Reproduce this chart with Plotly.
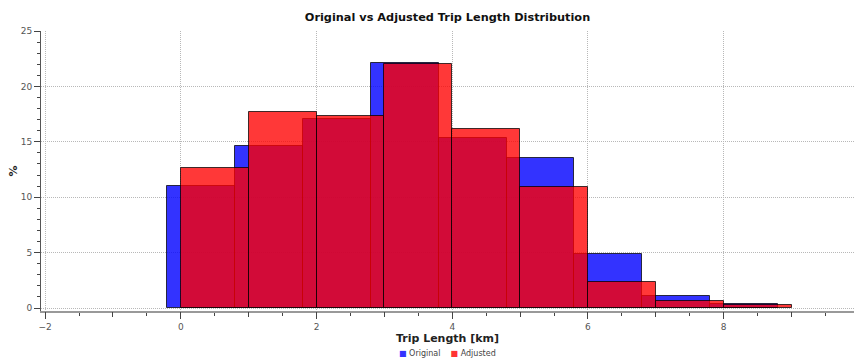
import plotly.graph_objects as go

# Data (percent of trips per 1 km bin)
original_bin_start = [-0.2, 0.8, 1.8, 2.8, 3.8, 4.8, 5.8, 6.8, 7.8]
original_pct = [11.0, 14.6, 17.05, 22.1, 15.3, 13.5, 4.85, 1.08, 0.36]

adjusted_bin_start = [0, 1, 2, 3, 4, 5, 6, 7, 8]
adjusted_pct = [12.6, 17.7, 17.3, 22.0, 16.15, 10.9, 2.35, 0.63, 0.27]

bin_width = 1.0
series_names = ["Original", "Adjusted"]

FONT = "DejaVu Sans"
BLUE = "rgba(0,0,255,0.8)"
RED = "rgba(255,0,0,0.78)"
EDGE = "rgba(0,0,0,0.75)"

fig = go.Figure()
fig.add_trace(go.Bar(
    x=original_bin_start, y=original_pct, width=bin_width, offset=0,
    marker=dict(color=BLUE, line=dict(color=EDGE, width=1)),
    name=series_names[0], hoverinfo="x+y",
))
fig.add_trace(go.Bar(
    x=adjusted_bin_start, y=adjusted_pct, width=bin_width, offset=0,
    marker=dict(color=RED, line=dict(color=EDGE, width=1)),
    name=series_names[1], hoverinfo="x+y",
))
# helper axis for integer ticks
fig.add_trace(go.Scatter(x=[None], y=[None], xaxis="x2", showlegend=False, hoverinfo="skip"))

tickfont = dict(family=FONT, size=9, color="#555555")
GRID = "#b8b8b8"
DASH = "1px,1px"

legend_text = (
    f'<span style="color:#3333ff">■</span> {series_names[0]}'
    f'&nbsp;&nbsp;&nbsp;&nbsp;<span style="color:#ff3333">■</span> {series_names[1]}'
)

fig.update_layout(
    width=854, height=360,
    margin=dict(l=41, r=0, t=31, b=49, autoexpand=False),
    paper_bgcolor="white", plot_bgcolor="white",
    barmode="overlay",
    bargap=0,
    showlegend=False,
    title=dict(text="<b>Original vs Adjusted Trip Length Distribution</b>",
               x=0.5, xref="paper", xanchor="center", y=0.953, yanchor="middle",
               font=dict(family=FONT, size=11.3, color="#111111")),
    xaxis=dict(
        range=[-2.06, 9.92], dtick=2, tick0=0, automargin=False,
        showgrid=True, gridcolor=GRID, griddash=DASH, gridwidth=1,
        zeroline=False,
        showline=True, linecolor="#999999", linewidth=2,
        ticks="outside", ticklen=6, tickcolor="#444444",
        minor=dict(dtick=0.5, ticks="outside", ticklen=3, tickcolor="#444444", showgrid=False),
        tickfont=tickfont,
        title=dict(text="<b>Trip Length [km]</b>", standoff=3,
                   font=dict(family=FONT, size=11, color="#222222")),
    ),
    xaxis2=dict(
        overlaying="x", matches="x", side="bottom", anchor="y", automargin=False,
        dtick=1, tick0=0, ticks="outside", ticklen=5, tickcolor="#444444",
        showticklabels=False, showgrid=False, zeroline=False, showline=False,
    ),
    yaxis=dict(
        range=[-0.27, 25], dtick=5, tick0=0, automargin=False,
        showgrid=True, gridcolor=GRID, griddash=DASH, gridwidth=1,
        zeroline=False,
        showline=True, linecolor="#555555", linewidth=1,
        ticks="outside", ticklen=6, tickcolor="#444444",
        minor=dict(dtick=1, ticks="outside", ticklen=3, tickcolor="#444444", showgrid=False),
        tickfont=tickfont,
        title=dict(text="<b>%</b>", standoff=0,
                   font=dict(family=FONT, size=11, color="#222222")),
    ),
    annotations=[dict(
        text=legend_text, xref="paper", yref="paper", x=0.5, y=-0.152,
        xanchor="center", yanchor="middle", showarrow=False,
        font=dict(family=FONT, size=8, color="#444444"),
    )],
)

fig.write_html(
    "out.html",
    config={"displayModeBar": False},
    post_script="document.body.style.margin='0';document.body.style.overflow='hidden';",
)
